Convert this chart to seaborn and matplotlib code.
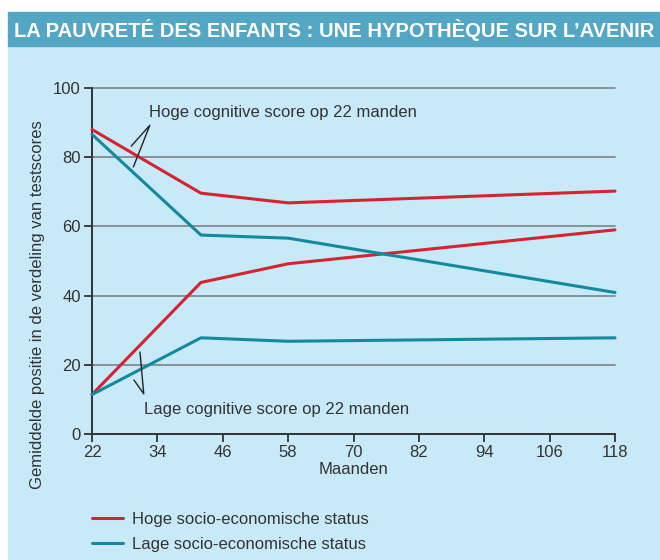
import numpy as np
import pandas as pd
import seaborn as sns
import matplotlib.pyplot as plt
from matplotlib.lines import Line2D
from matplotlib.patches import Rectangle

# data
months = [22, 42, 58, 118]
hoog_cog_hoog_ses = [88, 69.6, 66.8, 70.2]
hoog_cog_laag_ses = [86.6, 57.5, 56.6, 40.9]
laag_cog_hoog_ses = [11.4, 43.8, 49.2, 59.0]
laag_cog_laag_ses = [11.4, 27.8, 26.8, 27.8]
x_ticks = [22, 34, 46, 58, 70, 82, 94, 106, 118]
y_ticks = [0, 20, 40, 60, 80, 100]

RED = "#d5232f"
TEAL = "#13899f"
BG = "#c8e9f8"
HEAD = "#53a6c4"
GRID = "#808b92"
FS = 12

rows = []
for cog, ses, vals in [("hoog", "hoog", hoog_cog_hoog_ses), ("hoog", "laag", hoog_cog_laag_ses),
                       ("laag", "hoog", laag_cog_hoog_ses), ("laag", "laag", laag_cog_laag_ses)]:
    for m, v in zip(months, vals):
        rows.append({"maanden": m, "score": v, "ses": ses, "cog": cog})
df = pd.DataFrame(rows)

sns.set_style("white")
plt.rcParams["font.family"] = ["Liberation Sans", "DejaVu Sans"]

fig = plt.figure(figsize=(6.6, 5.6), dpi=100)
fig.patch.set_facecolor("white")
# light blue panel and header band
fig.add_artist(Rectangle((8 / 660, 0), 1, 514 / 560, transform=fig.transFigure, color=BG, zorder=-2))
fig.add_artist(Rectangle((8 / 660, 514 / 560), 1, 34 / 560, transform=fig.transFigure, color=HEAD, zorder=-1))
fig.text(14 / 660, 530 / 560, "LA PAUVRETÉ DES ENFANTS : UNE HYPOTHÈQUE SUR L’AVENIR",
         color="white", fontsize=14.5, fontweight="bold", va="center", ha="left",
         family=["Liberation Sans Narrow", "Liberation Sans"])

ax = fig.add_axes([92 / 660, 126 / 560, 523 / 660, 346 / 560])
ax.set_facecolor(BG)

sns.lineplot(data=df, x="maanden", y="score", hue="ses", units="cog", estimator=None,
             palette={"hoog": RED, "laag": TEAL}, linewidth=2.2, legend=False, ax=ax,
             zorder=3, clip_on=False)

ax.set_xlim(22, 118)
ax.set_ylim(0, 100)
ax.set_xticks(x_ticks)
ax.set_yticks(y_ticks)
for y in y_ticks[1:]:
    ax.plot([22, 118], [y, y], color=GRID, lw=1.3, zorder=1, clip_on=False)

for s in ["top", "right"]:
    ax.spines[s].set_visible(False)
for s in ["left", "bottom"]:
    ax.spines[s].set_color("#333333")
    ax.spines[s].set_linewidth(1.4)
ax.tick_params(axis="both", direction="out", length=6, width=1.3, color="#333333",
               labelsize=FS, labelcolor="#333333", left=True, bottom=True, pad=2)
ax.set_xlabel("Maanden", fontsize=FS, color="#333333", labelpad=1)
ax.set_ylabel("Gemiddelde positie in de verdeling van testscores", fontsize=FS,
              color="#333333", va="center")
ax.yaxis.set_label_coords(-0.105, 0.373)

# annotations
ax.text(32.4, 92.8, "Hoge cognitive score op 22 manden", fontsize=FS, color="#333333", va="center")
ax.plot([29.2, 32.6, 29.6], [83.2, 89.2, 77.2], color="#222222", lw=1.0, zorder=4)
ax.text(31.6, 7.2, "Lage cognitive score op 22 manden", fontsize=FS, color="#333333", va="center")
ax.plot([30.8, 31.5, 29.7], [23.7, 11.6, 15.6], color="#222222", lw=1.0, zorder=4)

handles = [Line2D([], [], color=RED, lw=2.2), Line2D([], [], color=TEAL, lw=2.2)]
fig.legend(handles, ["Hoge socio-economische status", "Lage socio-economische status"],
           loc="upper left", bbox_to_anchor=(85 / 660, 55 / 560), frameon=False,
           fontsize=FS, handlelength=1.9, handletextpad=0.55, labelspacing=0.62,
           labelcolor="#333333", borderaxespad=0)

fig.savefig("out.png", dpi=100, facecolor=fig.get_facecolor())
